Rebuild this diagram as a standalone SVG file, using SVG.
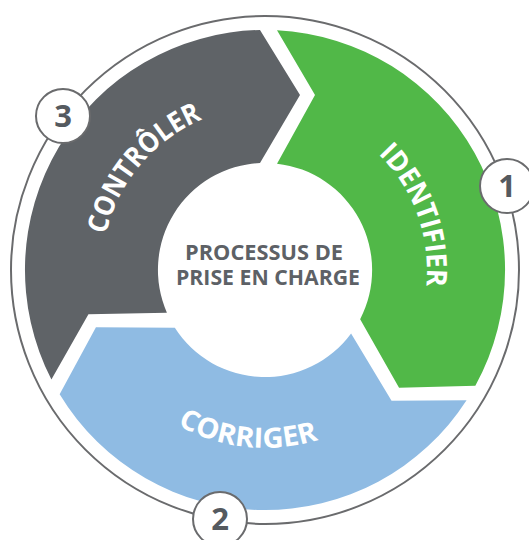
<svg xmlns="http://www.w3.org/2000/svg" width="529" height="540" viewBox="0 0 529 540">
  <defs>
    <path id="seg" d="M 12,-239.7 A 240 240 0 0 1 210.35,115.67 L 134.05,117.81 L 95.16,49.17 A 107 107 0 0 0 12,-106.33 L 50,-175 Z"/>
    <path id="arcControler" d="M -160.5,28.3 A 163 163 0 0 1 0,-163"/>
    <path id="arcIdentifier" d="M 55.4,-152.3 A 162 162 0 0 1 140.3,81"/>
    <path id="arcCorriger" d="M -147.5,99.5 A 178 178 0 0 0 123.6,128"/>
  </defs>
  <style>
    .lbl { font-family: "Open Sans", "Liberation Sans", sans-serif; font-weight: 700; font-size: 28px; fill: #ffffff; }
    .center { font-family: "Open Sans", "Liberation Sans", sans-serif; font-weight: 700; font-size: 22px; fill: #5d6166; }
    .badge circle { fill: #ffffff; stroke: #6a6b6d; stroke-width: 2; }
    .badge text { font-family: "Open Sans", "Liberation Sans", sans-serif; font-weight: 700; font-size: 31px; fill: #555a5f; text-anchor: middle; }
  </style>
  <rect width="529" height="540" fill="#ffffff"/>
  <g id="connectors">
    <circle cx="265" cy="270" r="254" fill="none" stroke="#6a6b6d" stroke-width="2"/>
  </g>
  <g transform="translate(265,270)">
    <g id="identifier">
      <use href="#seg" fill="#51b848"/>
      <text class="lbl"><textPath href="#arcIdentifier" startOffset="50%" text-anchor="middle" textLength="145" lengthAdjust="spacingAndGlyphs">IDENTIFIER</textPath></text>
    </g>
    <g id="corriger">
      <use href="#seg" fill="#8fbbe3" transform="rotate(120)"/>
      <text class="lbl"><textPath href="#arcCorriger" startOffset="50%" text-anchor="middle" textLength="146" lengthAdjust="spacingAndGlyphs">CORRIGER</textPath></text>
    </g>
    <g id="controler">
      <use href="#seg" fill="#5f6367" transform="rotate(240)"/>
      <text class="lbl"><textPath href="#arcControler" startOffset="50%" text-anchor="middle" textLength="156" lengthAdjust="spacingAndGlyphs">CONTRÔLER</textPath></text>
    </g>
  </g>
  <g id="center">
    <text class="center" x="185" y="260" textLength="158" lengthAdjust="spacingAndGlyphs">PROCESSUS DE</text>
    <text class="center" x="176" y="285" textLength="184" lengthAdjust="spacingAndGlyphs">PRISE EN CHARGE</text>
  </g>
  <g id="badge1" class="badge">
    <circle cx="507" cy="186" r="27"/>
    <text x="507" y="197">1</text>
  </g>
  <g id="badge2" class="badge">
    <circle cx="220" cy="519" r="27"/>
    <text x="220" y="530">2</text>
  </g>
  <g id="badge3" class="badge">
    <circle cx="63" cy="116" r="27"/>
    <text x="63" y="127">3</text>
  </g>
</svg>
